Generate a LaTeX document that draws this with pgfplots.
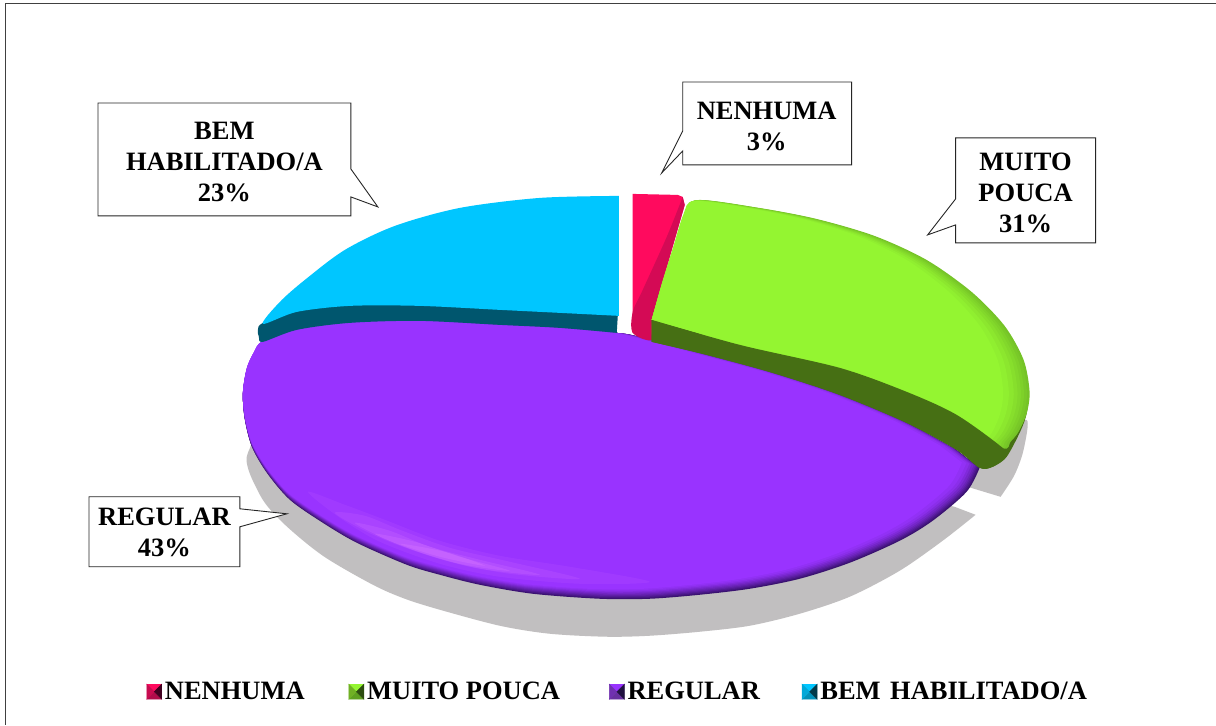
\documentclass[border=0pt]{standalone}
\usepackage{pgfplots}
\usepackage{pgfplotstable}
\usepackage{fontspec}
\setmainfont{Liberation Serif}
\pgfplotsset{compat=1.18}
\pgfplotstableread{
x y
980 468
967 492
933 521
900 541
850 563
800 579
750 589
700 595
650 599
600 599
533 594
480 585
440 575
407 565
357 543
323 523
290 500
267 473
252 447
245 420
243 395
247 370
254 354
263 342
297 330
350 323
420 321
500 325
560 328
617 333
640 337
707 355
773 373
840 395
907 423
957 450
}\purple
\pgfplotstableread{
x y
652 320
663 283
675 247
686 214
698 200
760 208
817 219
875 236
927 260
972 292
1005 326
1024 360
1030 392
1027 414
1019 432
1011 442
1003 448
957 415
907 392
840 368
790 356
740 345
700 333
}\greenface
\newcommand\pl[3]{\addplot[forget plot,smooth,fill={#3},draw=none] table[x expr={243+(\thisrow{x}-243)*#1}, y expr={318+(\thisrow{y}-318)*#2}] {\purple};}
\newcommand\gl[3]{\addplot[forget plot,smooth,fill={#3},draw=none] table[x expr={652+(\thisrow{x}-652)*#1}, y expr={320+(\thisrow{y}-320)*#2}] {\greenface};}
\newcommand\hlt[2]{\addplot[forget plot,smooth cycle,fill=hl,fill opacity=#1,draw=none] coordinates {#2};}
\newcommand\callout[1]{\addplot[forget plot,fill=white,draw=black!85,line width=0.9pt] coordinates {#1} --cycle;}
\newcommand\pyr[4]{%
  \fill[#1] (0pt,-7.5pt)--(15pt,-7.5pt)--(7.5pt,0pt)--cycle;
  \fill[#2] (0pt,7.5pt)--(15pt,7.5pt)--(7.5pt,0pt)--cycle;
  \fill[#3] (0pt,-7.5pt)--(0pt,7.5pt)--(7.5pt,0pt)--cycle;
  \fill[#4] (15pt,-7.5pt)--(15pt,7.5pt)--(7.5pt,0pt)--cycle;}
\definecolor{pk1}{HTML}{FF0A5E}\definecolor{pk2}{HTML}{B00C4A}\definecolor{pk3}{HTML}{C80C50}\definecolor{pk4}{HTML}{400020}
\definecolor{gr1}{HTML}{94F531}\definecolor{gr2}{HTML}{5FA020}\definecolor{gr3}{HTML}{70B024}\definecolor{gr4}{HTML}{2C4C10}
\definecolor{pu1}{HTML}{9933FF}\definecolor{pu2}{HTML}{6830A0}\definecolor{pu3}{HTML}{7030B0}\definecolor{pu4}{HTML}{201040}
\definecolor{cy1}{HTML}{00C6FF}\definecolor{cy2}{HTML}{0090B8}\definecolor{cy3}{HTML}{00A8D8}\definecolor{cy4}{HTML}{003848}
\definecolor{shadowc}{HTML}{C1BFC0}\definecolor{hl}{HTML}{E080FF}
\definecolor{pa}{HTML}{3A1270}
\definecolor{pkd}{HTML}{D40A55}\definecolor{grd}{HTML}{466F14}\definecolor{tl}{HTML}{00566E}
\definecolor{ga}{HTML}{5C9A1E}\definecolor{ge}{HTML}{94F531}
\begin{document}
\begin{tikzpicture}
\begin{axis}[
  width=1216pt,height=725pt,scale only axis,
  xmin=0,xmax=1216,ymin=0,ymax=725,y dir=reverse,
  hide axis,clip=false,
  legend columns=4,
  legend style={draw=none,fill=none,at={(axis cs:618,692)},anchor=center,
    font=\fontsize{26.5}{31}\selectfont\bfseries,inner sep=0pt,
    /tikz/every odd column/.style={column sep=1pt},
    /tikz/every even column/.style={column sep=42pt}},
  legend image code/.code={},
]
% canvas
\addplot[forget plot,fill=white,draw=none] coordinates {(0,0)(1216,0)(1216,725)(0,725)} --cycle;
\addplot[forget plot,draw=black!75,line width=1pt] coordinates {(6,725)(6,4)(1216,4)};
% shadow
\addplot[forget plot,smooth,fill=shadowc,draw=none] coordinates {(1001,497)(1015,475)(1024,450)(1027,420)(1000,440)(975,470)(968,487)};
\addplot[forget plot,smooth,fill=shadowc,draw=none] coordinates {(976,515)(943,541)(900,571)(850,597)(800,614)(750,626)(700,632)(650,636)(607,637)(550,634)(500,626)(440,610)(405,599)(373,585)(323,556)(283,523)(260,495)(248,453)(300,420)(600,430)(955,507)};
% purple slice
\pl{1}{1}{pa}
\pl{.9985}{.9965}{pu1!12!pa}
\pl{.997}{.993}{pu1!25!pa}
\pl{.9955}{.989}{pu1!38!pa}
\pl{.994}{.985}{pu1!50!pa}
\pl{.992}{.981}{pu1!62!pa}
\pl{.989}{.977}{pu1!74!pa}
\pl{.986}{.973}{pu1!85!pa}
\pl{.982}{.969}{pu1!93!pa}
\pl{.976}{.965}{pu1}
% highlight
\hlt{.10}{(308,492)(340,518)(380,542)(440,564)(500,577)(580,584)(650,582)(570,567)(500,556)(440,541)(385,520)(345,505)}
\hlt{.14}{(335,513)(365,531)(400,546)(450,562)(510,574)(580,579)(510,562)(450,548)(400,530)(365,516)}
\hlt{.18}{(355,523)(385,539)(430,556)(480,569)(540,575)(480,560)(430,547)(390,531)}
\hlt{.22}{(375,534)(410,549)(460,564)(510,571)(460,557)(415,542)}
\hlt{.25}{(400,544)(440,557)(485,566)(445,552)}
% pink slice
\addplot[forget plot,fill=pk1,draw=none] coordinates {(633,194)(678,195)(683,197)(685,205)(653,317)(652,340)(633,333)};
\addplot[forget plot,smooth,fill=pkd,draw=none] coordinates {(683,197)(667,237)(643,290)(633,312)(633,333)(652,340)(653,317)(685,205)};
% green slice
\addplot[forget plot,smooth,fill=grd,draw=none] coordinates {(652,320)(800,340)(950,350)(1005,340)(1024,372)(1029,395)(1027,414)(1021,431)(1007,457)(993,467)(980,468)(957,450)(907,423)(840,395)(773,373)(707,355)(652,342)};
\gl{1}{.999}{ge!45!ga}
\gl{.993}{.998}{ge!52!ga}
\gl{.985}{.997}{ge!60!ga}
\gl{.977}{.996}{ge!68!ga}
\gl{.968}{.995}{ge!76!ga}
\gl{.958}{.994}{ge!85!ga}
\gl{.945}{.993}{ge!93!ga}
\gl{.93}{.992}{ge}
\addplot[forget plot,smooth,fill=grd,draw=none] coordinates {(652,320)(740,345)(840,368)(907,392)(957,415)(1003,448)(1007,457)(993,467)(980,468)(957,450)(907,423)(840,395)(773,373)(707,355)(652,342)};
% cyan slice
\addplot[forget plot,smooth,fill=tl,draw=none] coordinates {(619,300)(400,295)(300,308)(263,323)(258,330)(259,337)(263,342)(297,330)(350,323)(420,321)(500,325)(560,328)(617,333)};
\addplot[forget plot,smooth,fill=cy1,draw=none] coordinates {(619,196)(540,198)(460,208)(395,226)(345,250)(305,280)(280,302)(263,324)(297,312)(350,306)(420,306)(500,310)(560,313)(619,316)};
% callouts
\callout{(98,103)(351,103)(351,169)(378,207)(351,197)(351,216)(98,216)}
\callout{(683,82)(852,82)(852,165)(683,165)(683,151)(662,173)(683,131)}
\callout{(956,138)(1096,138)(1096,243)(956,243)(956,225)(928,235)(956,199)}
\callout{(89,497)(240,497)(240,509)(287,514)(240,527)(240,567)(89,567)}
\tikzset{lab/.style={align=center,font=\fontsize{26.5}{31}\selectfont\bfseries,inner sep=0pt,text=black}}
\node[lab] at (axis cs:224.5,162) {BEM\\HABILITADO/A\\23\%};
\node[lab] at (axis cs:767,126) {NENHUMA\\3\%};
\node[lab] at (axis cs:1026,193) {MUITO\\POUCA\\31\%};
\node[lab] at (axis cs:164.5,533) {REGULAR\\43\%};
% legend
\addlegendimage{legend image code/.code={\pyr{pk2}{pk1}{pk3}{pk4}}}
\addlegendentry{NENHUMA}
\addlegendimage{legend image code/.code={\pyr{gr2}{gr1}{gr3}{gr4}}}
\addlegendentry{MUITO POUCA\kern5pt}
\addlegendimage{legend image code/.code={\pyr{pu2}{pu1}{pu3}{pu4}}}
\addlegendentry{REGULAR\kern-2pt}
\addlegendimage{legend image code/.code={\pyr{cy2}{cy1}{cy3}{cy4}}}
\addlegendentry{BEM\hspace{9.5pt}HABILITADO/A}
\end{axis}
\end{tikzpicture}
\end{document}
